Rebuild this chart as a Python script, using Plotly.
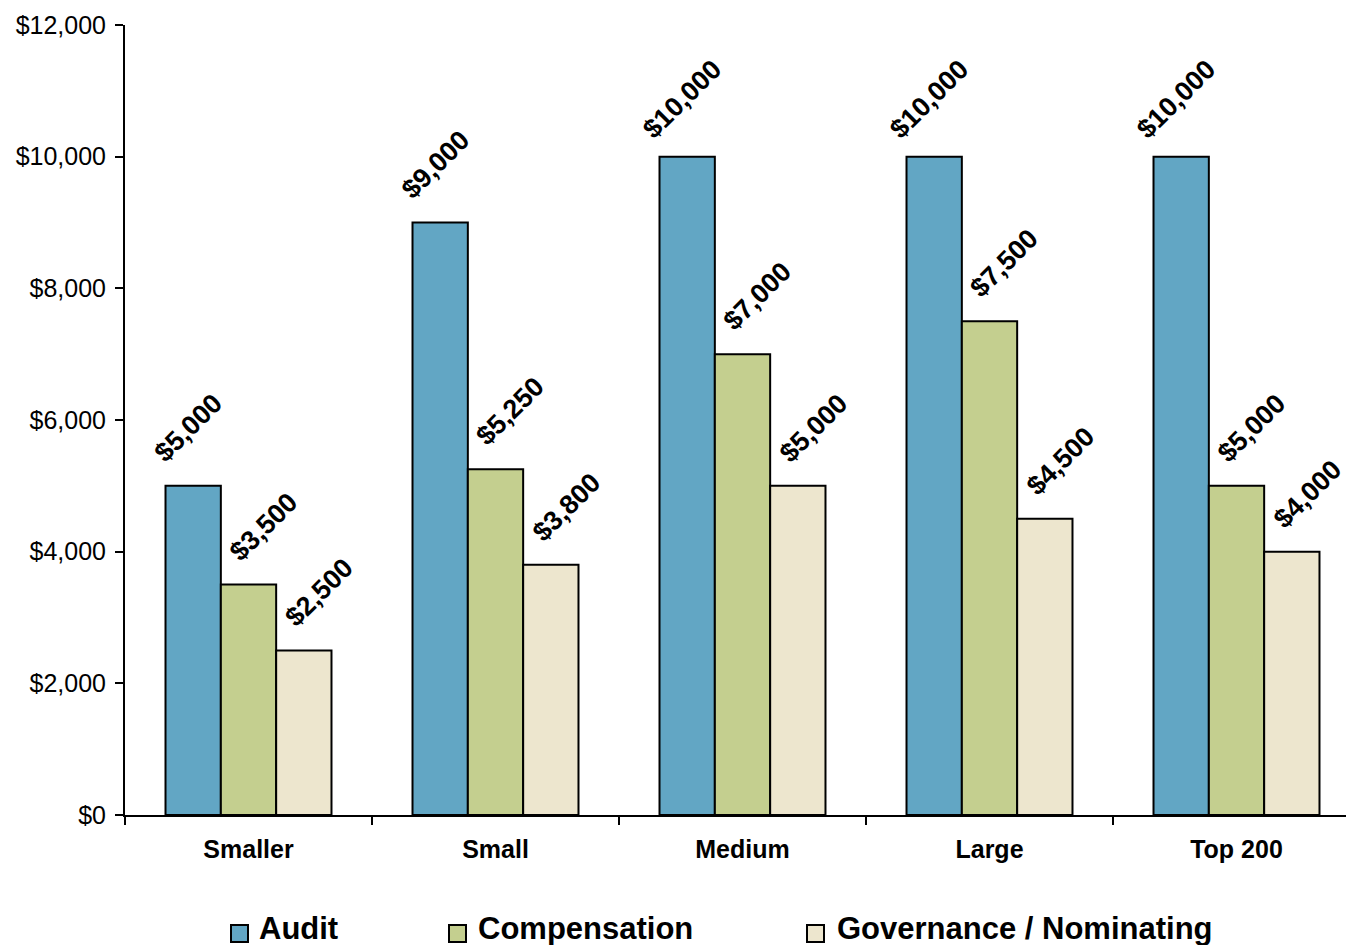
import plotly.graph_objects as go

categories = ["Smaller", "Small", "Medium", "Large", "Top 200"]
series_names = ["Audit", "Compensation", "Governance / Nominating"]
audit = [5000, 9000, 10000, 10000, 10000]
compensation = [3500, 5250, 7000, 7500, 5000]
governance = [2500, 3800, 5000, 4500, 4000]
y_ticks = [0, 2000, 4000, 6000, 8000, 10000, 12000]

colors = ["#62A6C4", "#C4CF8F", "#EDE6CE"]
values = [audit, compensation, governance]

W, H = 1346, 945
ML, MR, MT, MB = 125, 0, 25, 130
FONT = "Liberation Sans, Arial, sans-serif"

fig = go.Figure()
for name, vals, col in zip(series_names, values, colors):
    fig.add_trace(go.Bar(
        x=categories, y=vals, name=name,
        marker=dict(color=col, line=dict(color="black", width=2)),
        showlegend=False,
    ))

cat_px = 247.0
bar_px = cat_px * (1 - 0.328) / 3
label_dx = [-5, 15, 16]
annotations = []
for i, vals in enumerate(values):
    offset = (i - 1) * bar_px + label_dx[i]
    for c, v in zip(categories, vals):
        annotations.append(dict(
            x=c, y=v, xref="x", yref="y",
            text=f"${v:,}", showarrow=False, textangle=-45,
            xanchor="center", yanchor="middle",
            xshift=offset, yshift=58,
            font=dict(family=FONT, size=27, color="black", weight="bold"),
        ))

leg_sq_x = [231, 449, 807]
leg_txt_x = [257, 476, 835]
shapes = []
for i, name in enumerate(series_names):
    x0 = leg_sq_x[i]
    shapes.append(dict(
        type="rect", xref="paper", yref="paper",
        x0=(x0 - ML) / (W - ML - MR), x1=(x0 + 17 - ML) / (W - ML - MR),
        y0=(H - MB - 942) / (H - MT - MB), y1=(H - MB - 925) / (H - MT - MB),
        fillcolor=colors[i], line=dict(color="black", width=2),
    ))
    annotations.append(dict(
        x=(leg_txt_x[i] - ML) / (W - ML - MR), y=(H - MB - 928) / (H - MT - MB),
        xref="paper", yref="paper", xanchor="left", yanchor="middle",
        text=name, showarrow=False,
        font=dict(family=FONT, size=31, color="black", weight="bold"),
    ))

fig.update_layout(
    width=W, height=H,
    margin=dict(l=ML, r=MR, t=MT, b=MB),
    paper_bgcolor="white", plot_bgcolor="white",
    barmode="group", bargap=0.328, bargroupgap=0,
    font=dict(family=FONT, color="black"),
    annotations=annotations, shapes=shapes,
    xaxis=dict(
        type="category", range=[-0.5, 4.5 - 14 / cat_px],
        showline=True, linecolor="black", linewidth=2,
        ticks="outside", tickson="boundaries", ticklen=8, tickwidth=2, tickcolor="black",
        tickfont=dict(family=FONT, size=25, color="black", weight="bold"),
        ticklabelstandoff=11,
        showgrid=False, zeroline=False,
    ),
    yaxis=dict(
        range=[0, 12000], tickmode="array", tickvals=y_ticks,
        ticktext=[f"${v:,}" for v in y_ticks],
        showline=True, linecolor="black", linewidth=2,
        ticks="outside", ticklen=8, tickwidth=2, tickcolor="black",
        tickfont=dict(family=FONT, size=25, color="black"),
        ticklabelstandoff=4,
        showgrid=False, zeroline=False,
    ),
)

fig.write_html("out.html")
